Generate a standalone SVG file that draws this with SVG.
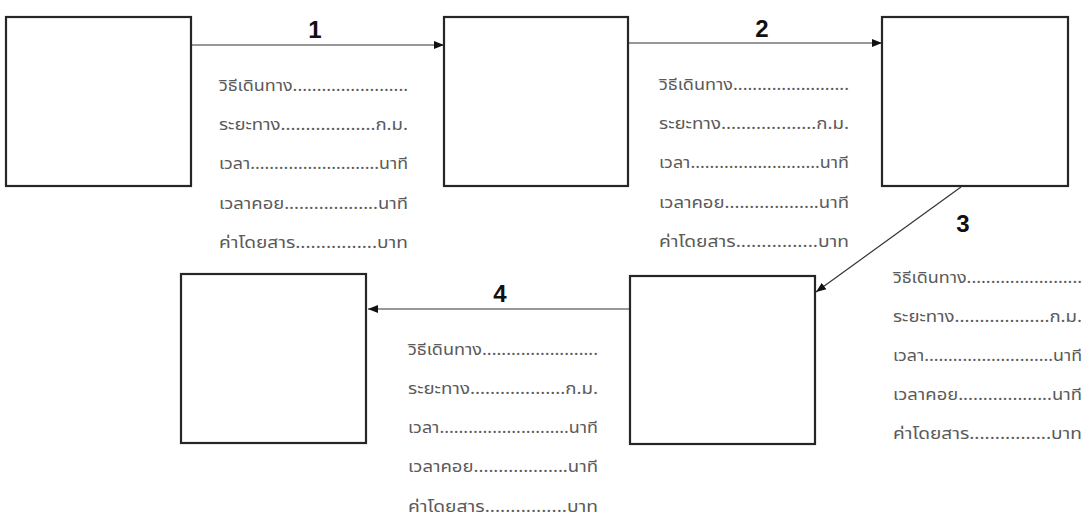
<svg xmlns="http://www.w3.org/2000/svg" width="1082" height="518" viewBox="0 0 1082 518">
<style>
.box{fill:#fff;stroke:#262626;stroke-width:2.2}
.con{stroke:#333;stroke-width:1.2;fill:none}
.num{font-family:"Liberation Sans",Arial,sans-serif;font-weight:bold;font-size:24px;fill:#111;text-anchor:middle}
.t{font-family:"Noto Sans Thai","Noto Sans","DejaVu Sans",sans-serif;font-size:16px;fill:#5a5a5a}
</style>
<defs>
<marker id="ah" viewBox="0 0 10 10" refX="10" refY="5" markerWidth="10" markerHeight="10" markerUnits="userSpaceOnUse" orient="auto">
<path d="M0,1 L10,5 L0,9 Z" fill="#111"/>
</marker>
</defs>
<g id="connectors">
<line class="con" x1="191" y1="45" x2="444" y2="45" marker-end="url(#ah)"/>
<line class="con" x1="628" y1="43" x2="882" y2="43" marker-end="url(#ah)"/>
<line class="con" x1="961" y1="187" x2="816" y2="292" marker-end="url(#ah)"/>
<line class="con" x1="630" y1="309" x2="368" y2="309" marker-end="url(#ah)"/>
<text class="num" x="315" y="38">1</text>
<text class="num" x="762" y="37">2</text>
<text class="num" x="963" y="232">3</text>
<text class="num" x="500" y="302">4</text>
</g>
<g id="node1"><rect class="box" x="6" y="17" width="185" height="169"/></g>
<g id="node2"><rect class="box" x="444" y="17" width="184" height="169"/></g>
<g id="node3"><rect class="box" x="882" y="17" width="186" height="169"/></g>
<g id="node4"><rect class="box" x="630" y="276" width="185" height="168"/></g>
<g id="node5"><rect class="box" x="181" y="274" width="185" height="169"/></g>
<g id="label1" class="t">
<text x="219" y="91" textLength="189" lengthAdjust="spacingAndGlyphs">วิธีเดินทาง........................</text>
<text x="219" y="130" textLength="189" lengthAdjust="spacingAndGlyphs">ระยะทาง...................ก.ม.</text>
<text x="219" y="169" textLength="189" lengthAdjust="spacingAndGlyphs">เวลา...........................นาที</text>
<text x="219" y="209" textLength="189" lengthAdjust="spacingAndGlyphs">เวลาคอย...................นาที</text>
<text x="219" y="248" textLength="189" lengthAdjust="spacingAndGlyphs">ค่าโดยสาร................บาท</text>
</g>
<g id="label2" class="t">
<text x="659" y="90" textLength="190" lengthAdjust="spacingAndGlyphs">วิธีเดินทาง........................</text>
<text x="659" y="129" textLength="190" lengthAdjust="spacingAndGlyphs">ระยะทาง...................ก.ม.</text>
<text x="659" y="168" textLength="190" lengthAdjust="spacingAndGlyphs">เวลา...........................นาที</text>
<text x="659" y="208" textLength="190" lengthAdjust="spacingAndGlyphs">เวลาคอย...................นาที</text>
<text x="659" y="247" textLength="190" lengthAdjust="spacingAndGlyphs">ค่าโดยสาร................บาท</text>
</g>
<g id="label3" class="t">
<text x="893" y="283" textLength="189" lengthAdjust="spacingAndGlyphs">วิธีเดินทาง........................</text>
<text x="893" y="322" textLength="189" lengthAdjust="spacingAndGlyphs">ระยะทาง...................ก.ม.</text>
<text x="893" y="361" textLength="189" lengthAdjust="spacingAndGlyphs">เวลา...........................นาที</text>
<text x="893" y="400" textLength="189" lengthAdjust="spacingAndGlyphs">เวลาคอย...................นาที</text>
<text x="893" y="439" textLength="189" lengthAdjust="spacingAndGlyphs">ค่าโดยสาร................บาท</text>
</g>
<g id="label4" class="t">
<text x="408" y="355" textLength="190" lengthAdjust="spacingAndGlyphs">วิธีเดินทาง........................</text>
<text x="408" y="394" textLength="190" lengthAdjust="spacingAndGlyphs">ระยะทาง...................ก.ม.</text>
<text x="408" y="433" textLength="190" lengthAdjust="spacingAndGlyphs">เวลา...........................นาที</text>
<text x="408" y="472" textLength="190" lengthAdjust="spacingAndGlyphs">เวลาคอย...................นาที</text>
<text x="408" y="512" textLength="190" lengthAdjust="spacingAndGlyphs">ค่าโดยสาร................บาท</text>
</g>
</svg>
